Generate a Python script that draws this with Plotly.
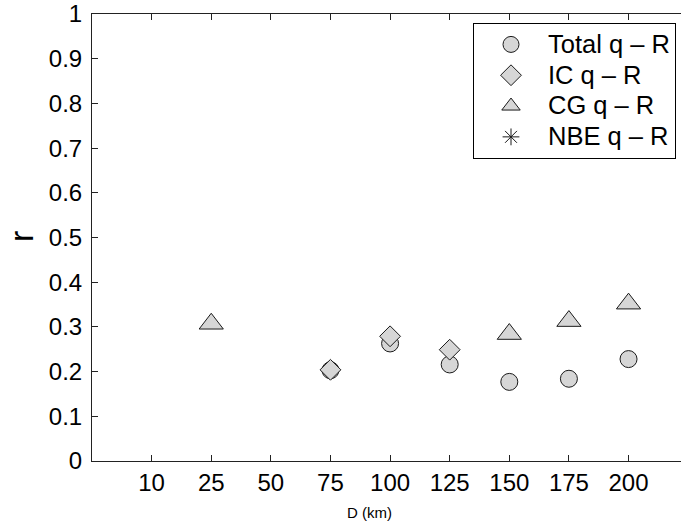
import plotly.graph_objects as go

categories = ["10", "25", "50", "75", "100", "125", "150", "175", "200"]
total_qR = [None, None, None, 0.203, 0.263, 0.216, 0.177, 0.184, 0.228]
ic_qR = [None, None, None, 0.204, 0.279, 0.249, None, None, None]
cg_qR = [None, 0.307, None, None, None, None, 0.284, 0.313, 0.352]
nbe_qR = [None, None, None, None, None, None, None, None, None]
series_names = ["Total q \u2013 R", "IC q \u2013 R", "CG q \u2013 R", "NBE q \u2013 R"]
y_ticks = [0, 0.1, 0.2, 0.3, 0.4, 0.5, 0.6, 0.7, 0.8, 0.9, 1]
y_ticklabels = ["0", "0.1", "0.2", "0.3", "0.4", "0.5", "0.6", "0.7", "0.8", "0.9", "1"]

FONT = "Liberation Sans, Arial, Helvetica, sans-serif"
FILL = "#d6d6d6"
EDGE = "#1a1a1a"


def legend_name(s):
    return '<span style="font-size:25.5px">' + s + "</span>"


fig = go.Figure()
fig.add_trace(go.Scatter(x=categories, y=total_qR, mode="markers", name=legend_name(series_names[0]),
                         marker=dict(symbol="circle", size=17, color=FILL, line=dict(color=EDGE, width=1))))
fig.add_trace(go.Scatter(x=categories, y=ic_qR, mode="markers", name=legend_name(series_names[1]),
                         marker=dict(symbol="diamond", size=16, color=FILL, line=dict(color=EDGE, width=1))))
fig.add_trace(go.Scatter(x=categories, y=cg_qR, mode="markers", name=legend_name(series_names[2]),
                         marker=dict(symbol="triangle-up", size=21, color=FILL, line=dict(color=EDGE, width=1))))
fig.add_trace(go.Scatter(x=categories, y=nbe_qR, mode="markers", name=legend_name(series_names[3]),
                         marker=dict(symbol="asterisk-open", size=14, color=EDGE, line=dict(color=EDGE, width=1))))

fig.update_layout(
    width=681, height=529,
    margin=dict(l=92, r=0, t=14, b=68),
    paper_bgcolor="white", plot_bgcolor="white",
    font=dict(family=FONT, color="black", size=24),
    showlegend=True,
    legend=dict(x=(473 - 92) / 589, y=(461 - 23) / 447, xanchor="left", yanchor="top",
                bgcolor="white", bordercolor="black", borderwidth=1,
                itemwidth=64,
                font=dict(size=21.4, family=FONT), tracegroupgap=0),
    xaxis=dict(type="category", categoryorder="array", categoryarray=categories,
               range=[-1, 8.88], showgrid=False, zeroline=False,
               showline=True, linecolor="#222222", linewidth=1, mirror="ticks",
               ticks="inside", ticklen=6, tickcolor="#222222",
               tickfont=dict(size=24, family=FONT)),
    yaxis=dict(range=[0, 1], tickvals=y_ticks, ticktext=y_ticklabels,
               showgrid=False, zeroline=False,
               showline=True, linecolor="#222222", linewidth=1, mirror=False,
               ticks="inside", ticklen=6, tickcolor="#222222",
               ticklabelstandoff=4,
               tickfont=dict(size=24, family=FONT)),
    annotations=[
        dict(text="D (km)", xref="paper", yref="paper", x=(369 - 92) / 589, y=-0.115,
             xanchor="center", yanchor="middle", showarrow=False,
             font=dict(size=15, family=FONT)),
        dict(text="r", xref="paper", yref="paper", x=(21 - 92) / 589, y=0.501,
             xanchor="center", yanchor="middle", showarrow=False, textangle=-90,
             font=dict(size=34, family=FONT)),
    ],
)

fig.write_html("out.html", config={"displayModeBar": False},
               post_script="document.body.style.margin='0px';")
